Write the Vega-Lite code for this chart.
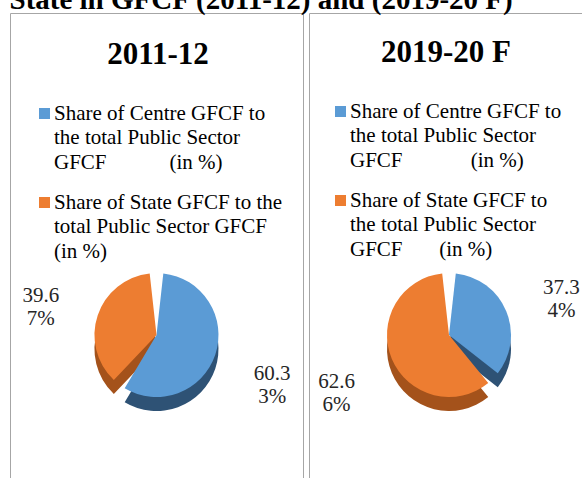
{
  "$schema": "https://vega.github.io/schema/vega-lite/v6.json",
  "background": "white",
  "padding": {"top": -15, "left": 9, "right": 0, "bottom": 0},
  "datasets": {
    "shares": [
      {"year": "2011-12", "part": "Centre", "value": 60.33, "label": "60.3\n3%"},
      {"year": "2011-12", "part": "State", "value": 39.67, "label": "39.6\n7%"},
      {"year": "2019-20 F", "part": "Centre", "value": 37.34, "label": "37.3\n4%"},
      {"year": "2019-20 F", "part": "State", "value": 62.66, "label": "62.6\n6%"}
    ]
  },
  "data": {"name": "shares"},
  "title": {
    "text": "State in GFCF (2011-12) and (2019-20 F)",
    "anchor": "start",
    "font": "Liberation Serif",
    "fontSize": 29,
    "fontWeight": "bold",
    "color": "#000000",
    "baseline": "alphabetic",
    "offset": -25
  },
  "spacing": 4,
  "hconcat": [
    {
      "width": 293,
      "height": 644,
      "view": {"stroke": "#a6a6a6", "strokeWidth": 1},
      "transform": [{"filter": "datum.year == '2011-12'"}],
      "encoding": {
        "theta": {"field": "value", "type": "quantitative", "stack": true},
        "order": {"field": "part", "type": "ordinal", "sort": "ascending"}
      },
      "layer": [
        {
          "mark": {"type": "arc", "outerRadius": 62, "padAngle": 0.22, "yOffset": 14},
          "encoding": {"color": {"condition": {"test": "datum.part == 'Centre'", "value": "#2E5275"}, "value": "#A4521B"}}
        },
        {
          "mark": {"type": "arc", "outerRadius": 62, "padAngle": 0.22},
          "encoding": {"color": {"field": "part", "type": "nominal", "scale": {"domain": ["Centre", "State"], "range": ["#5B9BD5", "#ED7D31"]},
            "legend": {"orient": "none", "legendX": 24, "legendY": 27, "title": "2011-12", "direction": "vertical", "padding": 0,
              "titleFont": "Liberation Serif", "titleFontSize": 31, "titleFontWeight": "bold", "titleColor": "#000000", "titleAnchor": "middle", "titleBaseline": "top", "titleLimit": 400, "titlePadding": 32,
              "symbolType": "square", "symbolSize": 121, "symbolStrokeWidth": 0,
              "labelFont": "Liberation Serif", "labelFontSize": 21, "labelColor": "#000000", "labelLimit": 600, "labelOffset": -1,
              "labelBaseline": "middle", "rowPadding": 18,
              "labelExpr": "datum.label == 'Centre' ? ['Share of Centre GFCF to', 'the total Public Sector', 'GFCF\u00a0\u00a0\u00a0\u00a0\u00a0\u00a0\u00a0\u00a0\u00a0\u00a0\u00a0\u00a0(in %)'] : ['Share of State GFCF to the', 'total Public Sector GFCF', '(in %)']"}}}
        },
        {
          "mark": {"type": "text", "radius": 122, "lineBreak": "\n", "font": "Liberation Serif", "fontSize": 21, "color": "#262626", "align": "center", "baseline": "middle"},
          "encoding": {"text": {"field": "label", "type": "nominal"}}
        }
      ]
    },
    {
      "width": 280,
      "height": 644,
      "view": {"stroke": "#a6a6a6", "strokeWidth": 1},
      "transform": [{"filter": "datum.year == '2019-20 F'"}],
      "encoding": {
        "theta": {"field": "value", "type": "quantitative", "stack": true},
        "order": {"field": "part", "type": "ordinal", "sort": "ascending"}
      },
      "layer": [
        {
          "mark": {"type": "arc", "outerRadius": 62, "padAngle": 0.22, "yOffset": 14},
          "encoding": {"color": {"condition": {"test": "datum.part == 'Centre'", "value": "#2E5275"}, "value": "#A4521B"}}
        },
        {
          "mark": {"type": "arc", "outerRadius": 62, "padAngle": 0.22},
          "encoding": {"color": {"field": "part", "type": "nominal", "scale": {"domain": ["Centre", "State"], "range": ["#5B9BD5", "#ED7D31"]},
            "legend": {"orient": "none", "legendX": 21, "legendY": 25, "title": "2019-20 F", "direction": "vertical", "padding": 0,
              "titleFont": "Liberation Serif", "titleFontSize": 31, "titleFontWeight": "bold", "titleColor": "#000000", "titleAnchor": "middle", "titleBaseline": "top", "titleLimit": 400, "titlePadding": 32,
              "symbolType": "square", "symbolSize": 121, "symbolStrokeWidth": 0,
              "labelFont": "Liberation Serif", "labelFontSize": 21, "labelColor": "#000000", "labelLimit": 600, "labelOffset": -1,
              "labelBaseline": "middle", "rowPadding": 18,
              "labelExpr": "datum.label == 'Centre' ? ['Share of Centre GFCF to', 'the total Public Sector', 'GFCF\u00a0\u00a0\u00a0\u00a0\u00a0\u00a0\u00a0\u00a0\u00a0\u00a0\u00a0\u00a0\u00a0(in %)'] : ['Share of State GFCF to', 'the total Public Sector', 'GFCF\u00a0\u00a0\u00a0\u00a0\u00a0\u00a0\u00a0(in %)']"}}}
        },
        {
          "mark": {"type": "text", "radius": 122, "lineBreak": "\n", "font": "Liberation Serif", "fontSize": 21, "color": "#262626", "align": "center", "baseline": "middle"},
          "encoding": {"text": {"field": "label", "type": "nominal"}}
        }
      ]
    }
  ],
  "resolve": {"scale": {"color": "independent", "theta": "independent"}, "legend": {"color": "independent"}},
  "config": {
    "font": "Liberation Serif",
    "view": {"stroke": "#a6a6a6", "strokeWidth": 1},
    "style": {"cell": {"stroke": "#a6a6a6", "strokeWidth": 1}, "guide-label": {"lineHeight": 24.5}}
  }
}
